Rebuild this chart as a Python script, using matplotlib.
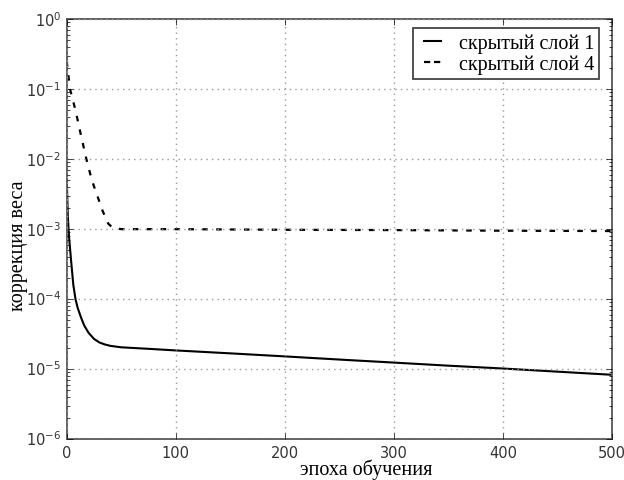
import matplotlib
matplotlib.use('Agg')
import matplotlib.pyplot as plt
from matplotlib.lines import Line2D

plt.style.use('classic')

# values
epochs_1 = [0, 1, 2, 4, 6, 8, 10, 13, 16, 20, 25, 30, 35, 40, 50, 75,
            100, 150, 200, 250, 300, 350, 400, 450, 500]
layer_1 = [5e-3, 1.5e-3, 8e-4, 3.5e-4, 1.6e-4, 1.0e-4, 7.5e-5, 5.5e-5, 4.2e-5,
           3.3e-5, 2.7e-5, 2.4e-5, 2.25e-5, 2.15e-5, 2.05e-5, 1.95e-5,
           1.85e-5, 1.68e-5, 1.52e-5, 1.37e-5, 1.24e-5, 1.12e-5, 1.02e-5,
           0.92e-5, 0.83e-5]

epochs_4 = [0, 3, 8, 13, 18, 23, 28, 33, 38, 42, 50, 100, 200, 300, 400, 500]
layer_4 = [0.25, 0.1, 0.05, 0.022, 0.01, 0.005, 0.003, 0.0018, 0.0012,
           0.00105, 0.001, 0.001, 0.00098, 0.00097, 0.00095, 0.00094]

label_1 = 'скрытый слой 1'
label_4 = 'скрытый слой 4'
x_label = 'эпоха обучения'
y_label = 'коррекция веса'

fig = plt.figure(figsize=(6.24, 4.81), dpi=100, facecolor='white')
ax = fig.add_axes([0.107, 0.085, 0.874, 0.873])

# dash lengths are scaled by the line width
ax.semilogy(epochs_1, layer_1, color='black', ls='-', lw=1.5)
ax.semilogy(epochs_4, layer_4, color='black', ls='--', lw=1.6, dashes=(4, 6))

ax.set_xlim(0, 500)
ax.set_ylim(1e-6, 1)
ax.set_xticks([0, 100, 200, 300, 400, 500])
ax.grid(True, which='major', ls=':', color='#999999', lw=1.0)
ax.tick_params(labelsize=10.5, labelcolor='#333333')
for sp in ax.spines.values():
    sp.set_color('#555555')
    sp.set_linewidth(1.3)

serif = {'family': 'Liberation Serif', 'size': 14.5}
ax.set_xlabel(x_label, fontdict=serif)
ax.set_ylabel(y_label, fontdict=serif)
ax.xaxis.set_label_coords(0.549, -0.046)
ax.yaxis.set_label_coords(-0.072, 0.464)

handles = [Line2D([], [], color='black', ls='-', lw=1.5),
           Line2D([], [], color='black', ls='--', lw=1.6, dashes=(4.5, 2.7))]
leg = ax.legend(handles, [label_1, label_4], loc='upper right',
                bbox_to_anchor=(0.976, 0.979), borderaxespad=0,
                prop={'family': 'Liberation Serif', 'size': 14.5},
                handlelength=1.4, borderpad=0.25, labelspacing=0.1,
                handletextpad=0.6, fancybox=False)
leg.get_frame().set_edgecolor('#444444')
leg.get_frame().set_linewidth(1.3)

fig.savefig('out.png', dpi=100, facecolor='white')
